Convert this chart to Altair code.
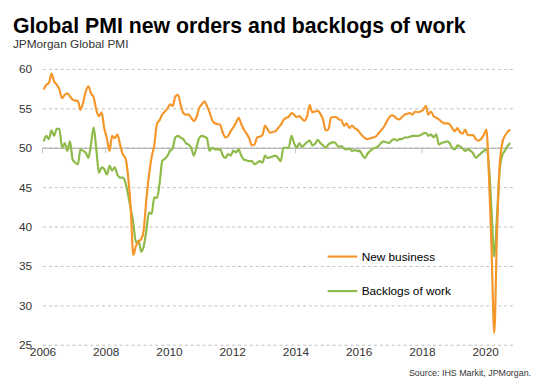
import altair as alt
import pandas as pd

# Monthly values, Jan 2006 - Oct 2020
new_business = [
    57.4, 58.0, 58.2, 59.4, 58.4, 58.0, 57.4, 56.3, 56.7, 56.9, 56.5, 56.1,  # 2006
    56.0, 55.9, 54.8, 55.7, 57.1, 57.8, 56.9, 56.4, 54.8, 54.0, 54.5, 52.5,  # 2007
    51.2, 49.6, 51.5, 51.2, 51.7, 50.4, 49.2, 48.7, 46.5, 42.5, 36.4, 37.5,  # 2008
    38.1, 38.4, 39.5, 43.5, 46.5, 48.8, 50.3, 53.0, 53.5, 54.2, 54.6, 55.0,  # 2009
    55.5, 55.3, 56.5, 56.7, 55.5, 54.4, 54.2, 54.2, 53.8, 53.4, 53.9, 55.0,  # 2010
    55.5, 55.9, 55.3, 54.5, 53.5, 53.1, 53.0, 52.9, 51.9, 51.3, 51.5, 52.1,  # 2011
    52.6, 53.2, 53.8, 53.0, 52.3, 51.8, 51.2, 50.3, 50.4, 51.3, 51.4, 51.6,  # 2012
    52.8, 52.3, 51.9, 52.0, 52.1, 52.5, 52.9, 53.5, 53.8, 53.9, 54.4, 54.2,  # 2013
    53.9, 54.0, 53.7, 53.4, 54.0, 55.4, 54.5, 54.6, 54.7, 54.3, 53.6, 52.2,  # 2014
    52.3, 53.8, 53.9, 53.9, 53.6, 53.5, 52.8, 53.1, 52.5, 52.8, 52.5, 52.3,  # 2015
    51.9, 51.5, 51.2, 51.1, 51.2, 51.3, 51.4, 51.8, 52.2, 52.6, 53.2, 53.8,  # 2016
    54.1, 54.0, 53.7, 53.6, 53.9, 54.2, 54.3, 54.4, 54.2, 54.6, 54.5, 54.6,  # 2017
    54.8, 55.3, 54.2, 54.6, 54.0, 53.8, 53.6, 53.3, 53.1, 53.1, 53.0, 52.5,  # 2018
    52.1, 52.5, 52.0, 51.8, 52.3, 51.6, 51.6, 51.6, 51.1, 50.9, 51.1, 51.6,  # 2019
    52.3, 46.0, 37.0, 26.5, 38.5, 47.5, 50.5, 51.5, 52.0, 52.3,              # 2020
]
backlogs = [
    50.8, 51.5, 51.1, 52.2, 51.5, 52.4, 52.4, 50.0, 50.6, 49.6, 50.8, 48.5,  # 2006
    48.1, 47.9, 49.8, 49.6, 49.4, 48.7, 50.4, 52.6, 49.8, 46.8, 47.5, 47.3,  # 2007
    46.6, 47.7, 47.1, 47.5, 46.6, 46.2, 46.2, 45.6, 44.1, 42.3, 40.5, 38.0,  # 2008
    38.2, 36.8, 37.5, 39.5, 41.8, 41.6, 43.7, 43.6, 45.5, 48.3, 48.6, 49.0,  # 2009
    49.6, 50.0, 51.3, 51.5, 51.3, 51.1, 50.6, 50.4, 50.0, 49.0, 50.0, 51.2,  # 2010
    51.5, 51.4, 51.2, 49.6, 50.0, 49.8, 49.8, 49.8, 49.0, 48.7, 49.2, 49.0,  # 2011
    49.6, 49.4, 49.8, 49.0, 48.5, 48.4, 48.3, 48.3, 47.9, 48.1, 48.3, 48.1,  # 2012
    49.0, 48.7, 48.8, 48.9, 49.0, 48.7, 48.3, 50.0, 50.0, 50.0, 51.5, 50.6,  # 2013
    50.0, 50.6, 50.1, 50.4, 50.7, 50.9, 50.3, 50.5, 51.0, 50.6, 50.3, 50.0,  # 2014
    50.4, 50.6, 50.7, 50.5, 50.1, 50.2, 49.9, 49.8, 49.9, 49.6, 49.7, 49.6,  # 2015
    49.6, 49.0, 48.7, 49.3, 49.6, 49.9, 50.0, 50.2, 50.6, 50.8, 50.7, 50.6,  # 2016
    50.9, 51.1, 50.9, 51.1, 51.1, 51.3, 51.3, 51.4, 51.5, 51.5, 51.5, 51.6,  # 2017
    51.8, 51.9, 51.5, 51.7, 51.3, 51.7, 50.4, 50.6, 50.7, 50.8, 50.6, 50.0,  # 2018
    49.8, 50.3, 50.2, 49.9, 49.6, 49.8, 49.6, 49.3, 48.7, 49.0, 49.3, 49.6,  # 2019
    49.8, 47.5, 42.0, 36.2, 41.0, 47.0, 49.0, 49.6, 50.2, 50.6,              # 2020
]
series_names = ["New business", "Backlogs of work"]
series_colors = ["#F5962A", "#8DBA48"]
year_ticks = [2006, 2008, 2010, 2012, 2014, 2016, 2018, 2020]
y_ticks = [25, 30, 35, 40, 45, 50, 55, 60]
title_text = "Global PMI new orders and backlogs of work"
subtitle_text = "JPMorgan Global PMI"
source_text = "Source: IHS Markit, JPMorgan."

FONT = "Liberation Sans"

dates = (pd.date_range("2006-01-01", periods=len(new_business), freq="MS")
         + pd.Timedelta(days=14)).strftime("%Y-%m-%d").tolist()

df = pd.concat([
    pd.DataFrame({"date": dates, "value": backlogs, "series": series_names[1]}),
    pd.DataFrame({"date": dates, "value": new_business, "series": series_names[0]}),
], ignore_index=True)

x_scale = alt.Scale(domain=[alt.DateTime(year=2006, month=1, date=1),
                            alt.DateTime(year=2020, month=11, date=10)])
y_scale = alt.Scale(domain=[25, 60], nice=False, zero=False)

x_axis = alt.Axis(values=[alt.DateTime(year=y, month=1, date=1) for y in year_ticks],
                  format="%Y", grid=False, domain=False, ticks=False,
                  labelFontSize=12, labelFont=FONT, labelColor="#333333",
                  labelPadding=2, labelOverlap=False, labelFlush=False)
y_axis = alt.Axis(values=y_ticks, grid=True, gridDash=[3, 3], gridColor="#BFBFBF",
                  domain=False, ticks=False, labelFontSize=12, labelFont=FONT,
                  labelColor="#333333", labelPadding=11, labelOverlap=False)

lines = alt.Chart(df).mark_line(strokeWidth=2.2, interpolate="monotone").encode(
    x=alt.X("date:T", scale=x_scale, title=None, axis=x_axis),
    y=alt.Y("value:Q", scale=y_scale, title=None, axis=y_axis),
    color=alt.Color("series:N",
                    scale=alt.Scale(domain=series_names, range=series_colors),
                    legend=alt.Legend(title=None, orient="none", legendX=288, legendY=174,
                                      symbolType="stroke", symbolSize=900,
                                      symbolStrokeWidth=2.2, labelFontSize=12,
                                      labelFont=FONT, labelColor="#000000",
                                      rowPadding=12, labelOffset=3, padding=0)),
)

rule50 = alt.Chart(pd.DataFrame({"v": [50]})).mark_rule(
    color="#A6A6A6", strokeWidth=1, yOffset=0.5).encode(
    y=alt.Y("v:Q", scale=y_scale, title=None, axis=y_axis))

tick_df = pd.DataFrame({"date": [f"{y}-01-01" for y in year_ticks], "v": 50})
ticks50 = alt.Chart(tick_df).mark_tick(
    orient="vertical", size=5, thickness=1, yOffset=3, color="#A6A6A6").encode(
    x=alt.X("date:T", scale=x_scale, title=None, axis=x_axis),
    y=alt.Y("v:Q", scale=y_scale, title=None, axis=y_axis))

source = alt.Chart(pd.DataFrame({"t": [source_text]})).mark_text(
    align="right", baseline="alphabetic", fontSize=9, font=FONT, color="#333333").encode(
    text="t:N", x=alt.value(496), y=alt.value(312))

chart = alt.layer(rule50, ticks50, lines, source).properties(
    width=477, height=280,
    title=alt.TitleParams(text=title_text, subtitle=subtitle_text, anchor="start",
                          frame="group", dx=-30, fontSize=21.6, font=FONT,
                          fontWeight="bold", color="#000000", subtitleFontSize=12,
                          subtitleFont=FONT, subtitleColor="#333333",
                          subtitlePadding=2, offset=13),
    autosize=alt.AutoSizeParams(type="none"),
    padding={"left": 35, "top": 59, "right": 24, "bottom": 36},
).configure_view(stroke=None)

chart.save("out.html", embed_options={"renderer": "svg", "actions": False})
